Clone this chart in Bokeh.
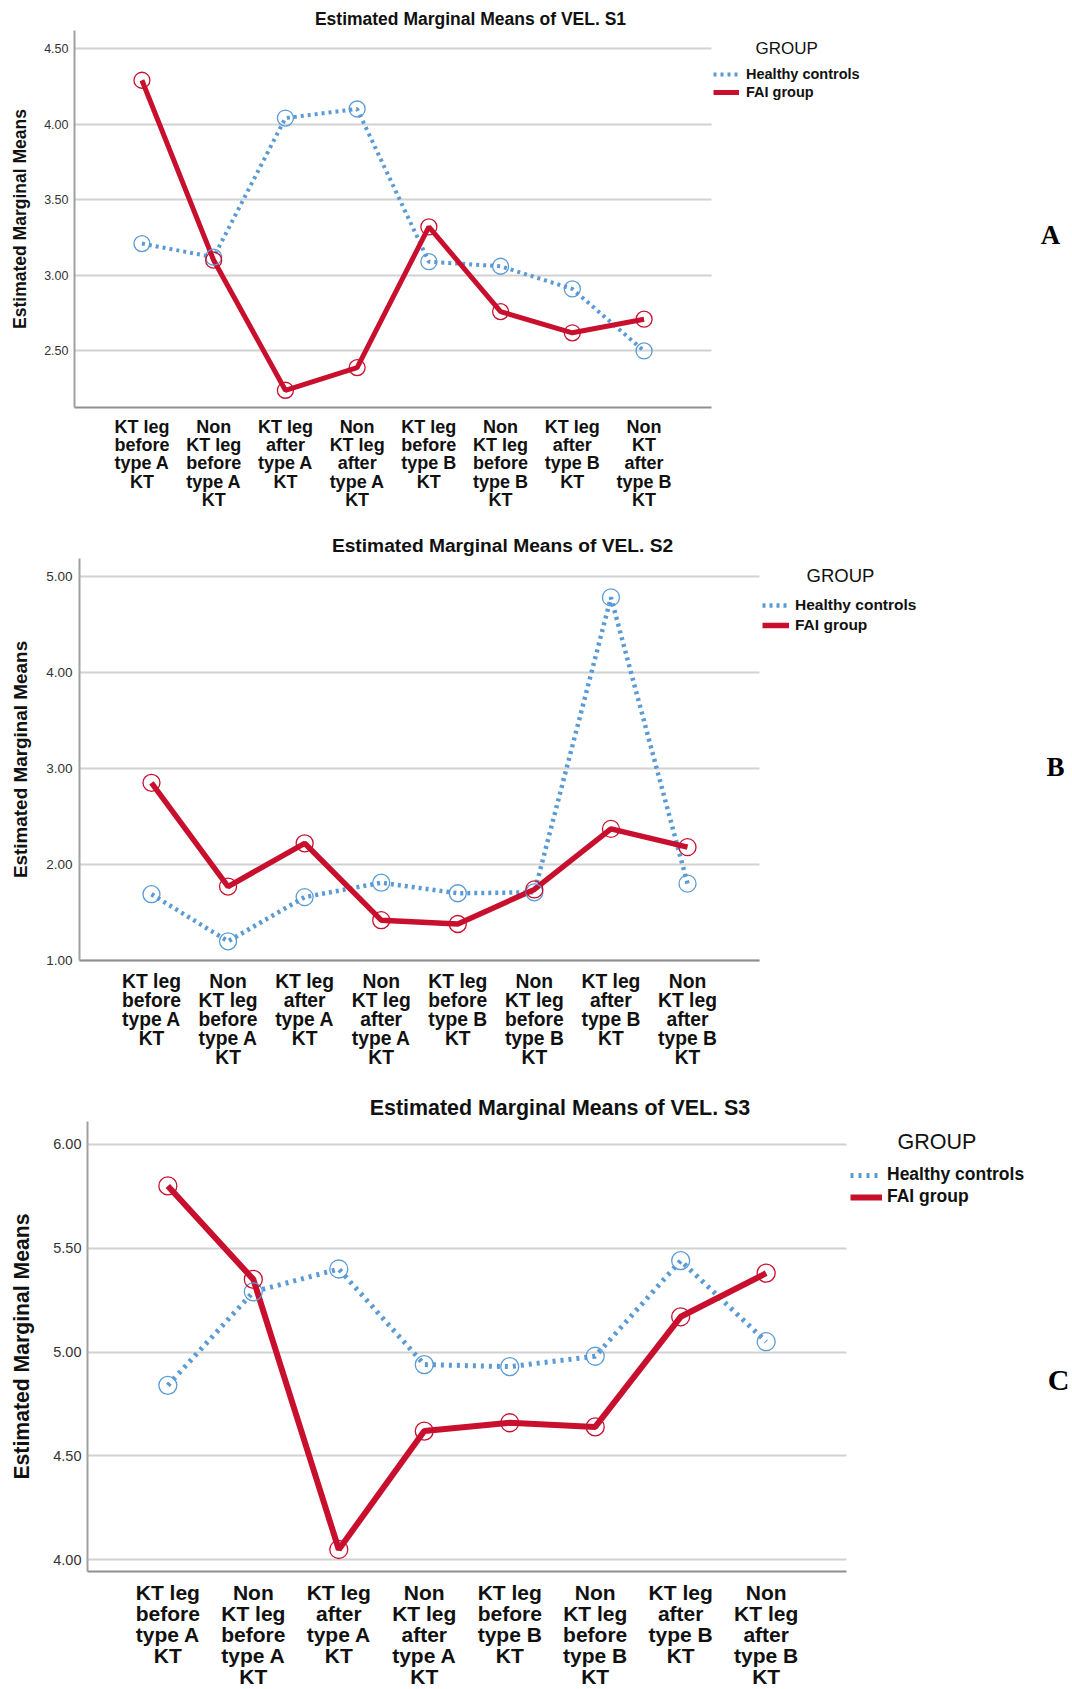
import math
from bokeh.plotting import figure
from bokeh.models import (Range1d, FixedTicker, PrintfTickFormatter, Label,
                          Legend, LegendItem, ColumnDataSource)
from bokeh.layouts import column
from bokeh.embed import file_html
from bokeh.resources import INLINE

# ---------------- data ----------------
positions = list(range(8))

labels_s1 = ["KT leg\nbefore\ntype A\nKT", "Non\nKT leg\nbefore\ntype A\nKT",
             "KT leg\nafter\ntype A\nKT", "Non\nKT leg\nafter\ntype A\nKT",
             "KT leg\nbefore\ntype B\nKT", "Non\nKT leg\nbefore\ntype B\nKT",
             "KT leg\nafter\ntype B\nKT", "Non\nKT\nafter\ntype B\nKT"]
labels_s2 = ["KT leg\nbefore\ntype A\nKT", "Non\nKT leg\nbefore\ntype A\nKT",
             "KT leg\nafter\ntype A\nKT", "Non\nKT leg\nafter\ntype A\nKT",
             "KT leg\nbefore\ntype B\nKT", "Non\nKT leg\nbefore\ntype B\nKT",
             "KT leg\nafter\ntype B\nKT", "Non\nKT leg\nafter\ntype B\nKT"]
labels_s3 = list(labels_s2)

healthy_s1 = [3.21, 3.12, 4.04, 4.10, 3.09, 3.06, 2.91, 2.50]
fai_s1 = [4.29, 3.10, 2.24, 2.39, 3.32, 2.76, 2.62, 2.71]
healthy_s2 = [1.69, 1.20, 1.66, 1.81, 1.70, 1.71, 4.78, 1.80]
fai_s2 = [2.85, 1.77, 2.22, 1.42, 1.38, 1.74, 2.37, 2.18]
healthy_s3 = [4.84, 5.29, 5.40, 4.94, 4.93, 4.98, 5.44, 5.05]
fai_s3 = [5.80, 5.35, 4.05, 4.62, 4.66, 4.64, 5.17, 5.38]

yticks_s1 = [2.5, 3.0, 3.5, 4.0, 4.5]
yticks_s2 = [1.0, 2.0, 3.0, 4.0, 5.0]
yticks_s3 = [4.0, 4.5, 5.0, 5.5, 6.0]

titles = ["Estimated Marginal Means of VEL. S1",
          "Estimated Marginal Means of VEL. S2",
          "Estimated Marginal Means of VEL. S3"]
letters = ["A", "B", "C"]
series_names = ["Healthy controls", "FAI group"]
legend_title = "GROUP"
y_title = "Estimated Marginal Means"

# ---------------- style ----------------
BLUE = "#5b9bd5"
RED = "#c8102e"
FONT = "Liberation Sans"
SERIF = "Liberation Serif"
X0, X1 = -0.94, 7.94
W = 1072

# geometry in canvas pixels (L/T = frame left/top, FW/FH = frame size)
specs = [
    dict(H=520, L=74, FW=637, T=30, FH=377, y0=2.126, y1=4.619,
         title=(470, 18.8, 17.5), ytitle=(17.5, 11), group=(755, 47.5, 17),
         letter=(1050, 234, 27), cat=(18, 0.924, 9),
         leg=(713, 101, 26, 7, 18, 14.5), ytick=(12.5, 6),
         wr=5, wb=4, dash="3 4", ms=16),
    dict(H=560, L=79, FW=680, T=38, FH=402, y0=1.0, y1=5.185,
         title=(502, 24.6, 19.2), ytitle=(18.9, 12), group=(806, 55.4, 18.5),
         letter=(1055, 246, 27), cat=(19.3, 0.909, 10),
         leg=(762, 115, 27, 6, 20, 15.5), ytick=(13.5, 7),
         wr=5.5, wb=4.5, dash="3 4", ms=17),
    dict(H=609, L=87, FW=759, T=41, FH=450, y0=3.944, y1=6.11,
         title=(559.5, 27.6, 21.4), ytitle=(21.2, 17), group=(897, 61.4, 21.5),
         letter=(1058, 299, 30), cat=(21, 0.92, 9),
         leg=(850, 127.5, 32, 5, 22, 17.5), ytick=(14.5, 6),
         wr=6, wb=5, dash="3 5", ms=18),
]


def make_panel(s, healthy, fai, cats, yticks, title, letter):
    H = s["H"]
    cw = s["FW"] / (X1 - X0)
    py = s["FH"] / (s["y1"] - s["y0"])
    xs = X0 - s["L"] / cw
    xe = xs + W / cw
    ys = s["y0"] - (H - s["T"] - s["FH"]) / py
    ye = ys + H / py

    def dx(fx):
        return xs + fx / cw

    def dy(fy):
        return ye - fy / py

    p = figure(width=W, height=H, x_range=Range1d(xs, xe), y_range=Range1d(ys, ye),
               output_backend="svg", toolbar_location=None, title=None,
               min_border=0, min_border_left=0, min_border_right=0,
               min_border_top=0, min_border_bottom=0)
    p.outline_line_color = None
    p.background_fill_color = "white"
    p.border_fill_color = "white"
    p.xgrid.visible = False

    # y axis drawn at the left edge of the plotting area
    ya = p.yaxis[0]
    ya.fixed_location = X0
    ya.bounds = (s["y0"], s["y1"])
    ya.ticker = FixedTicker(ticks=yticks)
    ya.formatter = PrintfTickFormatter(format="%.2f")
    ya.major_tick_out = 0
    ya.major_tick_in = 0
    ya.minor_tick_out = 0
    ya.minor_tick_in = 0
    ya.major_label_standoff = s["ytick"][1]
    ya.major_label_text_font = FONT
    ya.major_label_text_font_size = f"{s['ytick'][0]}px"
    ya.major_label_text_color = "#333333"
    ya.axis_line_color = "#a0a0a0"
    ya.axis_line_width = 2
    ya.axis_label = y_title
    ya.axis_label_text_font = FONT
    ya.axis_label_text_font_style = "bold"
    ya.axis_label_text_font_size = f"{s['ytitle'][0]}px"
    ya.axis_label_text_color = "#111111"
    ya.axis_label_standoff = s["ytitle"][1]

    # x axis drawn at the bottom of the plotting area
    xa = p.xaxis[0]
    xa.fixed_location = s["y0"]
    xa.bounds = (X0, X1)
    xa.ticker = FixedTicker(ticks=positions)
    xa.major_label_overrides = {i: c for i, c in zip(positions, cats)}
    xa.major_tick_out = 0
    xa.major_tick_in = 0
    xa.minor_tick_out = 0
    xa.minor_tick_in = 0
    cfs, clh, cst = s["cat"]
    xa.major_label_standoff = cst
    xa.major_label_text_font = FONT
    xa.major_label_text_font_size = f"{cfs}px"
    xa.major_label_text_font_style = "bold"
    xa.major_label_text_line_height = clh
    xa.major_label_text_color = "#111111"
    xa.axis_line_color = "#8f8f8f"
    xa.axis_line_width = 2

    yg = p.ygrid[0]
    if "cross_bounds" in yg.properties():
        yg.cross_bounds = (X0, X1)
        yg.grid_line_color = "#d2d2d2"
        yg.grid_line_width = 2
    else:
        yg.visible = False
        p.segment(x0=[X0] * len(yticks), x1=[X1] * len(yticks), y0=yticks, y1=yticks,
                  line_color="#d2d2d2", line_width=2)

    src = ColumnDataSource(dict(x=positions, healthy=healthy, fai=fai))
    rb = p.line("x", "healthy", source=src, line_color=BLUE, line_width=s["wb"],
                line_dash=s["dash"])
    rr = p.line("x", "fai", source=src, line_color=RED, line_width=s["wr"])
    p.scatter("x", "healthy", source=src, marker="circle", size=s["ms"],
              fill_color=None, line_color=BLUE, line_width=1.3)
    p.scatter("x", "fai", source=src, marker="circle", size=s["ms"],
              fill_color=None, line_color=RED, line_width=1.3)

    # title
    tx, ty, tfs = s["title"]
    p.add_layout(Label(x=dx(tx), y=dy(ty), text=title, text_align="center",
                       text_baseline="middle", text_font=FONT,
                       text_font_size=f"{tfs}px", text_font_style="bold",
                       text_color="#111111"))
    # legend header
    gx, gy, gfs = s["group"]
    p.add_layout(Label(x=dx(gx), y=dy(gy), text=legend_title, text_align="left",
                       text_baseline="middle", text_font=FONT,
                       text_font_size=f"{gfs}px", text_color="#111111"))
    # panel letter
    lx, ly, lfs = s["letter"]
    p.add_layout(Label(x=dx(lx), y=dy(ly), text=letter, text_align="center",
                       text_baseline="middle", text_font=SERIF,
                       text_font_size=f"{lfs}px", text_font_style="bold",
                       text_color="#000000"))
    # legend
    gx0, gbottom, gw, stand, ih, lfs2 = s["leg"]
    legend = Legend(items=[LegendItem(label=series_names[0], renderers=[rb]),
                           LegendItem(label=series_names[1], renderers=[rr])],
                    location=(gx0, H - gbottom), orientation="vertical",
                    border_line_color=None, background_fill_alpha=0,
                    padding=0, margin=0, spacing=0, glyph_width=gw,
                    glyph_height=ih, label_height=ih, label_standoff=stand,
                    label_text_font=FONT, label_text_font_size=f"{lfs2}px",
                    label_text_font_style="bold", label_text_color="#111111")
    p.add_layout(legend)
    return p


pA = make_panel(specs[0], healthy_s1, fai_s1, labels_s1, yticks_s1, titles[0], letters[0])
pB = make_panel(specs[1], healthy_s2, fai_s2, labels_s2, yticks_s2, titles[1], letters[1])
pC = make_panel(specs[2], healthy_s3, fai_s3, labels_s3, yticks_s3, titles[2], letters[2])

layout = column(pA, pB, pC, spacing=0)
open("out.html", "w").write(file_html(layout, INLINE))
